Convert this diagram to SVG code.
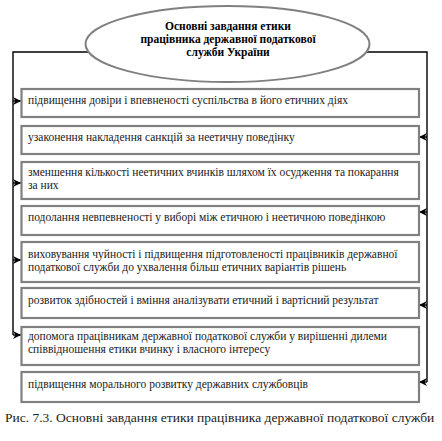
<svg xmlns="http://www.w3.org/2000/svg" width="442" height="441" viewBox="0 0 442 441">
<defs>
<marker id="ah" viewBox="0 0 10 10" refX="10" refY="5" markerWidth="8" markerHeight="8" markerUnits="userSpaceOnUse" orient="auto">
<path d="M0,0 L10,5 L0,10 L3,5 Z" fill="#000"/>
</marker>
<style>
.box{fill:#fff;stroke:#808080;stroke-width:2.2}
.t{font-family:'Liberation Serif','DejaVu Serif','Times New Roman',serif;font-size:11.5px;fill:#1a1a1a}
.h{font-family:'Liberation Serif','DejaVu Serif','Times New Roman',serif;font-size:11.5px;font-weight:bold;fill:#000;text-anchor:middle}
.cap{font-family:'Liberation Serif','DejaVu Serif','Times New Roman',serif;font-size:13.5px;fill:#222}
.c{fill:none;stroke:#000;stroke-width:1.4}
.a{fill:none;stroke:#000;stroke-width:1.4;marker-end:url(#ah)}
</style>
</defs>
<rect width="442" height="441" fill="#fff"/>
<g id="connectors">
<path class="c" d="M88.7,52 H13 V335"/>
<path class="c" d="M366.3,52 H427 V382"/>
<path class="a" d="M13,101 H21"/>
<path class="a" d="M13,183 H21"/>
<path class="a" d="M13,260 H21"/>
<path class="a" d="M13,335 H21"/>
<path class="a" d="M427,137 H419"/>
<path class="a" d="M427,212 H419"/>
<path class="a" d="M427,305 H419"/>
<path class="a" d="M427,382 H419"/>
</g>
<g id="title">
<ellipse cx="227.5" cy="44" rx="142" ry="38" fill="#fff" stroke="#808080" stroke-width="2"/>
<text class="h" x="228" y="30">Основні завдання етики</text>
<text class="h" x="228" y="43">працівника державної податкової</text>
<text class="h" x="228" y="56">служби України</text>
</g>
<g id="n1"><rect class="box" x="21.5" y="89" width="397.5" height="28"/><text class="t" x="28" y="104">підвищення довіри і впевненості суспільства в його етичних діях</text></g>
<g id="n2"><rect class="box" x="21.5" y="126" width="397.5" height="28"/><text class="t" x="28" y="141">узаконення накладення санкцій за неетичну поведінку</text></g>
<g id="n3"><rect class="box" x="21.5" y="162" width="397.5" height="37"/><text class="t" x="28" y="176">зменшення кількості неетичних вчинків шляхом їх осудження та покарання</text><text class="t" x="28" y="189">за них</text></g>
<g id="n4"><rect class="box" x="21.5" y="206" width="397.5" height="29"/><text class="t" x="28" y="221">подолання невпевненості у виборі між етичною і неетичною поведінкою</text></g>
<g id="n5"><rect class="box" x="21.5" y="242" width="397.5" height="40"/><text class="t" x="28" y="258">виховування чуйності і підвищення підготовленості працівників державної</text><text class="t" x="28" y="271">податкової служби до ухвалення більш етичних варіантів рішень</text></g>
<g id="n6"><rect class="box" x="21.5" y="288" width="397.5" height="30"/><text class="t" x="28" y="304">розвиток здібностей і вміння аналізувати етичний і вартісний результат</text></g>
<g id="n7"><rect class="box" x="21.5" y="327" width="397.5" height="38"/><text class="t" x="28" y="340">допомога працівникам державної податкової служби у вирішенні дилеми</text><text class="t" x="28" y="353">співвідношення етики вчинку і власного інтересу</text></g>
<g id="n8"><rect class="box" x="21.5" y="372" width="397.5" height="30"/><text class="t" x="28" y="388">підвищення морального розвитку державних службовців</text></g>
<text class="cap" x="5" y="422">Рис. 7.3. Основні завдання етики працівника державної податкової служби</text>
</svg>
